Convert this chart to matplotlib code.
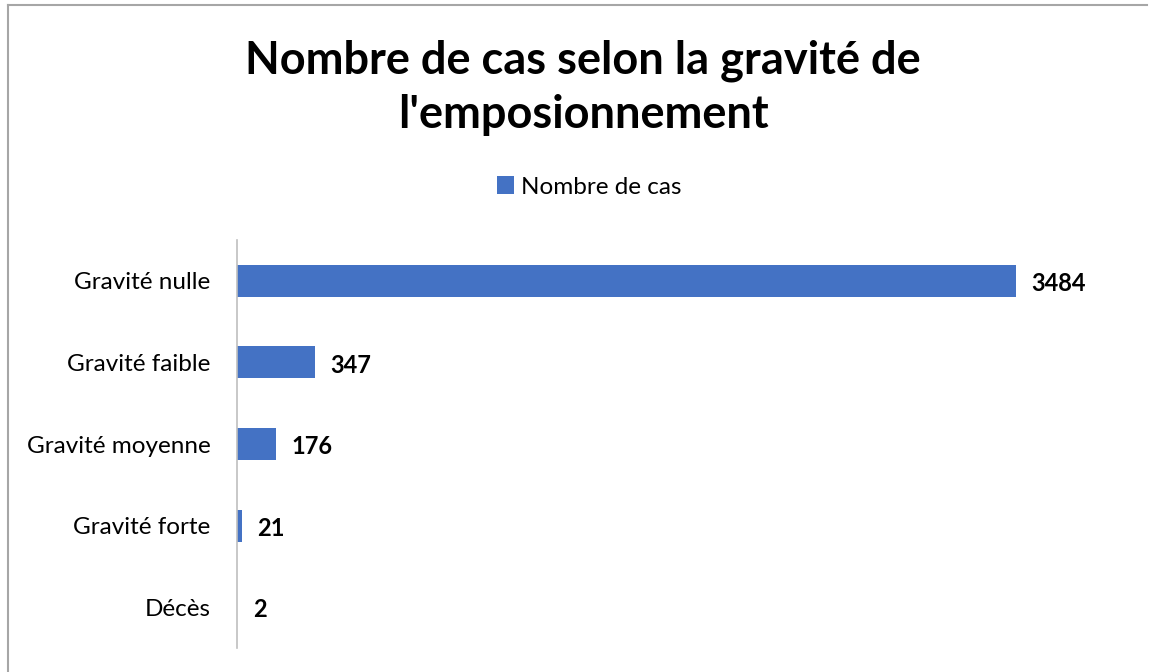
import matplotlib.pyplot as plt
from matplotlib.lines import Line2D

plt.rcParams['font.family'] = ['Lato', 'DejaVu Sans']

# data
categories = ['Gravité nulle', 'Gravité faible', 'Gravité moyenne', 'Gravité forte', 'Décès']
nombre_cas = [3484, 347, 176, 21, 2]

bar_color = '#4472C4'

fig = plt.figure(figsize=(11.55, 6.72), dpi=100)
ax = fig.add_axes([237 / 1155, 1 - 648 / 672, (1131 - 237) / 1155, 408 / 672])

ypos = list(range(len(categories)))
bars = ax.barh(ypos, nombre_cas, height=0.39, color=bar_color, label='Nombre de cas')
ax.set_ylim(len(categories) - 0.5, -0.5)
ax.set_xlim(0, 4000)
ax.set_yticks(ypos)
ax.set_yticklabels(categories, fontsize=17.5)
ax.tick_params(axis='y', length=0, pad=19)
ax.set_xticks([])
for s in ['top', 'right', 'bottom']:
    ax.spines[s].set_visible(False)
ax.spines['left'].set_color('#bfbfbf')
ax.spines['left'].set_linewidth(1.2)

# data labels
for y, v in zip(ypos, nombre_cas):
    ax.annotate(str(v), (v, y), xytext=(11, -2), textcoords='offset points',
                ha='left', va='center', fontsize=17, fontweight='bold')

fig.text(0.505, 0.869, "Nombre de cas selon la gravité de\nl'emposionnement",
         ha='center', va='center', fontsize=32.5, fontweight='bold', linespacing=1.36)

fig.legend(handles=[bars], labels=['Nombre de cas'], loc='center',
           bbox_to_anchor=(0.510, 1 - 187 / 672), frameon=False, fontsize=17.5,
           handlelength=0.7, handleheight=0.7, handletextpad=0.3)

# chart border
fig.add_artist(Line2D([8 / 1155, 8 / 1155], [0, 1 - 5 / 672], transform=fig.transFigure,
                      color='#a6a6a6', lw=1.5))
fig.add_artist(Line2D([8 / 1155, 1147 / 1155], [1 - 5 / 672, 1 - 5 / 672], transform=fig.transFigure,
                      color='#a6a6a6', lw=1.5))

fig.savefig('out.png', dpi=100)
